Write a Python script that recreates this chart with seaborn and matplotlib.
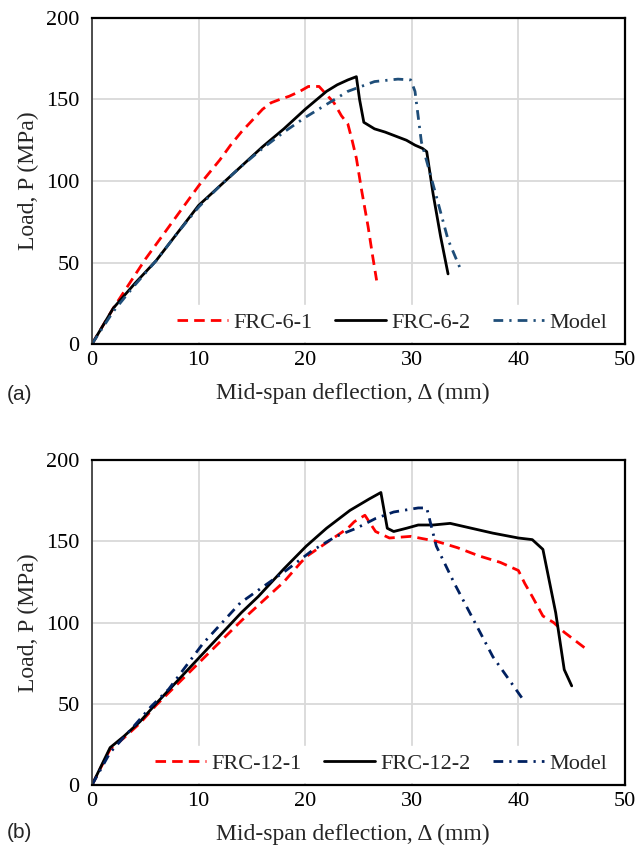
import matplotlib
matplotlib.use("Agg")
import matplotlib.pyplot as plt
import seaborn as sns
import pandas as pd

# ---- (a) FRC-6 specimens ----
frc6_1_x = [0, 1, 2, 3, 4, 5, 6, 7, 8, 9, 10, 11, 12, 13, 14, 15, 16, 16.8,
            17.6, 18.5, 19.5, 20.3, 21.3, 22.0, 22.7, 23.4, 24.0, 24.4, 24.8,
            25.3, 25.9, 26.3, 26.7]
frc6_1_y = [0, 11, 22, 32, 42, 52, 61, 70, 79, 88, 97, 105, 113, 122, 130,
            137, 144, 148, 150, 152, 155, 158, 158, 153, 148, 140, 135, 125,
            114, 94, 72, 55, 39]

frc6_2_x = [0, 1, 2, 4, 6, 8, 10, 12, 14, 16, 18, 20, 22, 23, 24, 24.8, 25.1,
            25.5, 26.5, 27.5, 28.7, 29.5, 30.3, 31.0, 31.4, 32.0, 32.7, 33.4]
frc6_2_y = [0, 11, 22, 37, 51, 68, 85, 97, 109, 121, 132, 144, 155, 159, 162,
            164, 150, 136, 132, 130, 127, 125, 122, 120, 118, 92, 66, 43]

model6_x = [0, 2, 4, 6, 8, 10, 12, 14, 16, 18, 20, 22, 24, 26.5, 28.7, 29.9,
            30.3, 30.9, 32.2, 33.4, 34.5]
model6_y = [0, 20, 36, 51, 68, 84, 97, 109, 120, 130, 139, 147, 155, 161,
            162.5, 162, 155, 124, 93, 64, 47]

# ---- (b) FRC-12 specimens ----
frc12_1_x = [0, 1.7, 3, 4.5, 6, 8, 10, 12, 14, 16, 18, 19.6, 20.2, 22.2,
             24.0, 24.6, 25.6, 26.2, 26.6, 27.9, 29.9, 32.3, 34.3, 36.3, 38.3,
             40.0, 40.6, 41.3, 42.3, 43.3, 44.3, 45.3, 46.5]
frc12_1_y = [0, 22, 29, 38, 49, 62, 75, 88, 101, 113, 125, 137, 141, 150,
             158, 162, 166, 160, 156, 152, 153, 150, 146, 141, 137, 132, 124,
             116, 104, 100, 94, 89, 83]

frc12_2_x = [0, 1.7, 3, 4.5, 6, 8, 10, 12, 14, 15.6, 18, 20.1, 22, 24.2, 26,
             27.1, 27.7, 28.3, 29.5, 30.6, 32.0, 33.6, 35.6, 37.6, 40.0, 41.3,
             42.3, 43.5, 44.3, 45.0]
frc12_2_y = [0, 23, 30, 39, 50, 64, 78, 92, 106, 116, 133, 147, 158, 169,
             176, 180, 158, 156, 158, 160, 160, 161, 158, 155, 152, 151, 145,
             106, 71, 61]

model12_x = [0, 1.7, 3.9, 5.5, 7.2, 10.4, 13.9, 18.2, 20.6, 22.9, 24.8, 26.6,
             28.3, 30.6, 31.4, 32.3, 34.0, 35.6, 37.6, 40.5]
model12_y = [0, 20, 36, 48, 59, 87, 112, 132, 144, 153, 158, 164, 168, 170.5,
             170.5, 147, 124, 104, 79, 52]

x_ticks = [0, 10, 20, 30, 40, 50]
y_ticks = [0, 50, 100, 150, 200]

panels = [
    ("(a)", [("FRC-6-1", frc6_1_x, frc6_1_y),
             ("FRC-6-2", frc6_2_x, frc6_2_y),
             ("Model", model6_x, model6_y)], "#1F4E79"),
    ("(b)", [("FRC-12-1", frc12_1_x, frc12_1_y),
             ("FRC-12-2", frc12_2_x, frc12_2_y),
             ("Model", model12_x, model12_y)], "#002060"),
]

sns.set_theme(style="white")
plt.rcParams["font.family"] = ["Liberation Serif", "DejaVu Serif"]

fig = plt.figure(figsize=(6.36, 8.48), dpi=100)
axes_rects = [
    [92 / 636, 1 - 344 / 848, 533 / 636, 326 / 848],
    [92 / 636, 1 - 785 / 848, 533 / 636, 325 / 848],
]
tag_y = [1 - 395 / 848, 1 - 832 / 848]

lw = 2.0
for (tag, series, model_color), rect, ty in zip(panels, axes_rects, tag_y):
    ax = fig.add_axes(rect)
    styles = [
        dict(color="#FF0000", dashes=(3.8, 2.2)),
        dict(color="black"),
        dict(color=model_color, dashes=(3.5, 2.2, 0.8, 2.2)),
    ]
    for (name, xs, ys), st in zip(series, styles):
        df = pd.DataFrame({"x": xs, "y": ys})
        sns.lineplot(data=df, x="x", y="y", ax=ax, sort=False,
                     estimator=None, label=name, color=st["color"],
                     linewidth=lw)
        if "dashes" in st:
            ax.lines[-1].set_dashes(st["dashes"])

    ax.set_xlim(0, 50)
    ax.set_ylim(0, 200)
    ax.set_xticks(x_ticks)
    ax.set_yticks(y_ticks)
    ax.tick_params(axis="both", length=0, labelsize=16, labelcolor="black")
    ax.tick_params(axis="x", pad=5)
    ax.tick_params(axis="y", pad=9)
    ax.grid(True, color="#D9D9D9", linewidth=1.3)
    ax.set_axisbelow(True)
    for side in ["top", "right", "bottom"]:
        ax.spines[side].set_color("black")
        ax.spines[side].set_linewidth(1.6)
    ax.spines["left"].set_color("#404040")
    ax.spines["left"].set_linewidth(1.3)

    ax.set_xlabel("Mid-span deflection, Δ (mm)", fontsize=17)
    ax.xaxis.set_label_coords(0.49, -0.12)
    ax.set_ylabel("Load, P (MPa)", fontsize=17)
    ax.yaxis.set_label_coords(-0.1, 0.5)

    leg = ax.legend(loc="lower right", bbox_to_anchor=(0.988, 0.0), ncol=3,
                    frameon=True, fontsize=16, handlelength=2.3,
                    handletextpad=0.25, columnspacing=1.0,
                    borderaxespad=0.15, borderpad=0.35, fancybox=False)
    leg.get_frame().set_facecolor("white")
    leg.get_frame().set_edgecolor("white")
    leg.get_frame().set_alpha(1.0)
    leg.set_zorder(2.4)

    fig.text(19 / 636, ty, tag, fontsize=15, ha="center", va="center",
             family=["Liberation Sans", "DejaVu Sans"])

fig.savefig("out.png", dpi=100)
